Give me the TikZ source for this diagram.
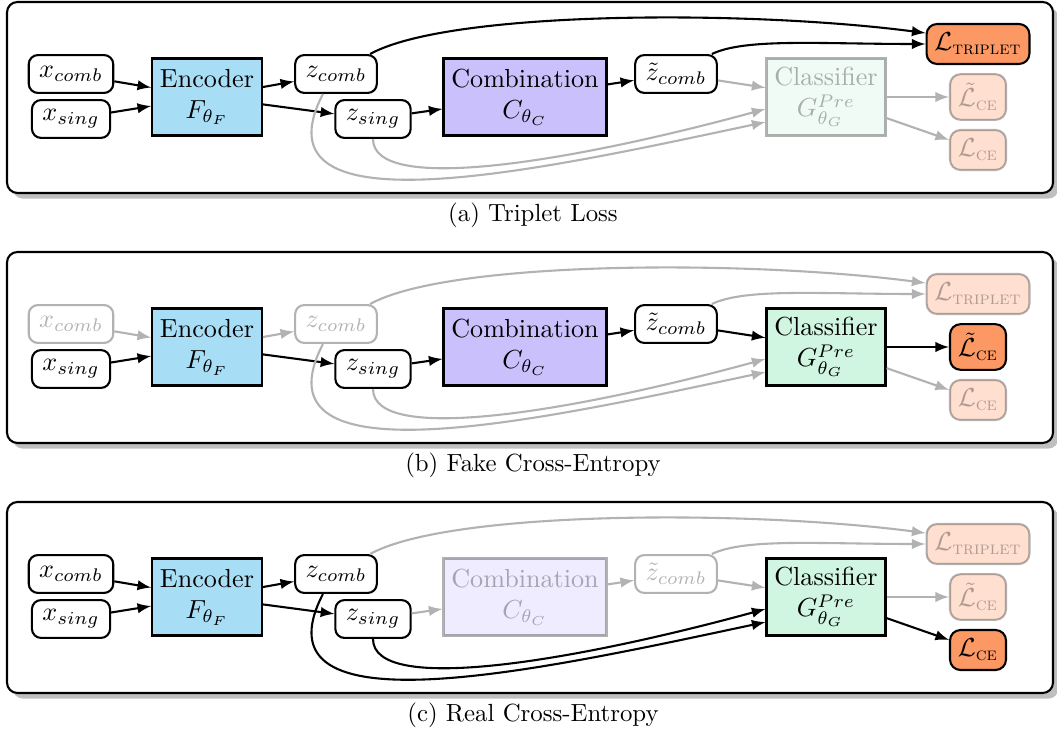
\documentclass[tikz,border=0pt]{standalone}
\usepackage{amsmath}
\usepackage{amsfonts}
\usetikzlibrary{shadows}

\definecolor{encblue}{RGB}{168,221,246}
\definecolor{combpurple}{RGB}{202,193,252}
\definecolor{clsgreen}{RGB}{208,245,224}
\definecolor{lossorange}{RGB}{252,152,100}

\tikzset{
  var/.style={draw, thick, fill=white, rounded corners=3.5pt, inner xsep=4pt, inner ysep=2pt, minimum height=14.5pt},
  block/.style={draw, thick, align=center, inner sep=3pt, minimum height=29.5pt},
  loss/.style={draw, thick, fill=lossorange, rounded corners=4pt, inner xsep=3pt, minimum height=15.3pt},
  faded/.style={opacity=0.3},
  arr/.style={->, thick},
  farr/.style={->, thick, black!30},
  panel/.style={draw, thick, fill=white, rounded corners=4pt, drop shadow},
  caption/.style={font=\fontsize{9.5pt}{11pt}\selectfont},
}

\begin{document}
\begin{tikzpicture}[x=0.01346cm, y=-0.01346cm, >=latex]
    \useasboundingbox (0,0) rectangle (1057,734);
    % (a) triplet loss
    \begin{scope}
      \draw[panel] (7,2) rectangle (1053,193);
      \node[var] (xc-a) at (71,74) {$x_{comb}$};
      \node[var] (xs-a) at (71,119) {$x_{sing}$};
      \node[block, fill=encblue] (enc-a) at (207,97) {Encoder\\$F_{\theta_F}$};
      \node[var] (zc-a) at (336,74) {$z_{comb}$};
      \node[var] (zs-a) at (373,119) {$z_{sing}$};
      \node[block, fill=combpurple] (comb-a) at (525,97) {Combination\\$C_{\theta_C}$};
      \node[var] (zt-a) at (676,74) {$\tilde{z}_{comb}$};
      \node[block, fill=clsgreen, faded] (cls-a) at (826,97) {Classifier\\$G^{Pre}_{\theta_G}$};
      \node[loss] (lt-a) at (978,44) {$\mathcal{L}_{\text{\textsc{triplet}}}$};
      \node[loss, faded] (ltce-a) at (978,97) {$\tilde{\mathcal{L}}_{\text{\textsc{ce}}}$};
      \node[loss, faded] (lce-a) at (978,150) {$\mathcal{L}_{\text{\textsc{ce}}}$};
      \draw[arr] (xc-a) -- (enc-a);
      \draw[arr] (xs-a) -- (enc-a);
      \draw[arr] (enc-a) -- (zc-a);
      \draw[arr] (enc-a) -- (zs-a);
      \draw[arr] (zs-a) -- (comb-a);
      \draw[arr] (comb-a) -- (zt-a);
      \draw[arr] ([xshift=-3pt]zc-a.north east) .. controls (450,10) and (750,10) .. ([yshift=4.2pt]lt-a.west);
      \draw[arr] ([xshift=-2.3pt]zt-a.north east) .. controls (745,38) and (820,44) .. (lt-a.west);
      \draw[farr] (zt-a) -- (cls-a);
      \draw[farr] (zs-a.south) .. controls (373,195) and (571,162) .. ([yshift=-4.6pt]cls-a.west);
      \draw[farr] ([xshift=-5pt]zc-a.south) .. controls (250,235) and (540,170) .. ([yshift=-9.6pt]cls-a.west);
      \draw[farr] (cls-a) -- (ltce-a);
      \draw[farr] (cls-a) -- (lce-a);
      \node[caption] (cap-a) at (533,215) {(a) Triplet Loss};
    \end{scope}
    % (b) fake cross-entropy
    \begin{scope}[shift={(0,250)}]
      \draw[panel] (7,2) rectangle (1053,193);
      \node[var, faded] (xc-b) at (71,74) {$x_{comb}$};
      \node[var] (xs-b) at (71,119) {$x_{sing}$};
      \node[block, fill=encblue] (enc-b) at (207,97) {Encoder\\$F_{\theta_F}$};
      \node[var, faded] (zc-b) at (336,74) {$z_{comb}$};
      \node[var] (zs-b) at (373,119) {$z_{sing}$};
      \node[block, fill=combpurple] (comb-b) at (525,97) {Combination\\$C_{\theta_C}$};
      \node[var] (zt-b) at (676,74) {$\tilde{z}_{comb}$};
      \node[block, fill=clsgreen] (cls-b) at (826,97) {Classifier\\$G^{Pre}_{\theta_G}$};
      \node[loss, faded] (lt-b) at (978,44) {$\mathcal{L}_{\text{\textsc{triplet}}}$};
      \node[loss] (ltce-b) at (978,97) {$\tilde{\mathcal{L}}_{\text{\textsc{ce}}}$};
      \node[loss, faded] (lce-b) at (978,150) {$\mathcal{L}_{\text{\textsc{ce}}}$};
      \draw[farr] (xc-b) -- (enc-b);
      \draw[arr] (xs-b) -- (enc-b);
      \draw[farr] (enc-b) -- (zc-b);
      \draw[arr] (enc-b) -- (zs-b);
      \draw[arr] (zs-b) -- (comb-b);
      \draw[arr] (comb-b) -- (zt-b);
      \draw[farr] ([xshift=-3pt]zc-b.north east) .. controls (450,10) and (750,10) .. ([yshift=4.2pt]lt-b.west);
      \draw[farr] ([xshift=-2.3pt]zt-b.north east) .. controls (745,38) and (820,44) .. (lt-b.west);
      \draw[arr] (zt-b) -- (cls-b);
      \draw[farr] (zs-b.south) .. controls (373,195) and (571,162) .. ([yshift=-4.6pt]cls-b.west);
      \draw[farr] ([xshift=-5pt]zc-b.south) .. controls (250,235) and (540,170) .. ([yshift=-9.6pt]cls-b.west);
      \draw[arr] (cls-b) -- (ltce-b);
      \draw[farr] (cls-b) -- (lce-b);
      \node[caption] (cap-b) at (533,215) {(b) Fake Cross-Entropy};
    \end{scope}
    % (c) real cross-entropy
    \begin{scope}[shift={(0,500)}]
      \draw[panel] (7,2) rectangle (1053,193);
      \node[var] (xc-c) at (71,74) {$x_{comb}$};
      \node[var] (xs-c) at (71,119) {$x_{sing}$};
      \node[block, fill=encblue] (enc-c) at (207,97) {Encoder\\$F_{\theta_F}$};
      \node[var] (zc-c) at (336,74) {$z_{comb}$};
      \node[var] (zs-c) at (373,119) {$z_{sing}$};
      \node[block, fill=combpurple, faded] (comb-c) at (525,97) {Combination\\$C_{\theta_C}$};
      \node[var, faded] (zt-c) at (676,74) {$\tilde{z}_{comb}$};
      \node[block, fill=clsgreen] (cls-c) at (826,97) {Classifier\\$G^{Pre}_{\theta_G}$};
      \node[loss, faded] (lt-c) at (978,44) {$\mathcal{L}_{\text{\textsc{triplet}}}$};
      \node[loss, faded] (ltce-c) at (978,97) {$\tilde{\mathcal{L}}_{\text{\textsc{ce}}}$};
      \node[loss] (lce-c) at (978,150) {$\mathcal{L}_{\text{\textsc{ce}}}$};
      \draw[arr] (xc-c) -- (enc-c);
      \draw[arr] (xs-c) -- (enc-c);
      \draw[arr] (enc-c) -- (zc-c);
      \draw[arr] (enc-c) -- (zs-c);
      \draw[farr] (zs-c) -- (comb-c);
      \draw[farr] (comb-c) -- (zt-c);
      \draw[farr] ([xshift=-3pt]zc-c.north east) .. controls (450,10) and (750,10) .. ([yshift=4.2pt]lt-c.west);
      \draw[farr] ([xshift=-2.3pt]zt-c.north east) .. controls (745,38) and (820,44) .. (lt-c.west);
      \draw[farr] (zt-c) -- (cls-c);
      \draw[arr] (zs-c.south) .. controls (373,195) and (571,162) .. ([yshift=-4.6pt]cls-c.west);
      \draw[arr] ([xshift=-5pt]zc-c.south) .. controls (250,235) and (540,170) .. ([yshift=-9.6pt]cls-c.west);
      \draw[farr] (cls-c) -- (ltce-c);
      \draw[arr] (cls-c) -- (lce-c);
      \node[caption] (cap-c) at (533,215) {(c) Real Cross-Entropy};
    \end{scope}
  \end{tikzpicture}
\end{document}
